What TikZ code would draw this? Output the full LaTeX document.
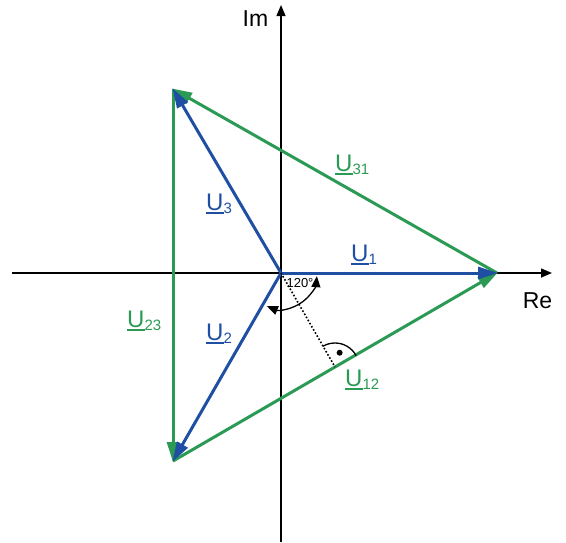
\documentclass[tikz,border=0pt]{standalone}
\usepackage{fontspec}
\setmainfont{Liberation Sans}
\usetikzlibrary{arrows.meta,calc}
\definecolor{vblue}{HTML}{1F4FA3}
\definecolor{vgreen}{HTML}{2A9A55}
\newcommand{\ulU}{\leavevmode\vtop{\hbox{U}\kern2pt\hrule height 1.5pt}}
\newcommand{\vlab}[1]{\ulU\textsubscript{\fontsize{15}{16}\selectfont #1}}
\begin{document}
\begin{tikzpicture}[x=1pt,y=1pt,
  axis/.style={line width=1.5pt,-{Triangle[length=11pt,width=9pt]}},
  bvec/.style={vblue,line width=3pt,-{Triangle[length=20pt,width=12pt]},shorten >=-1pt},
  gvec/.style={vgreen,line width=3pt,-{Triangle[length=20pt,width=12pt]},shorten >=-1pt},
  lab/.style={font=\fontsize{24}{26}\selectfont,inner sep=0pt,anchor=base west},
  axlab/.style={font=\fontsize{23}{25}\selectfont,inner sep=0pt}]
\useasboundingbox (0,-542) rectangle (566,0);
\coordinate (O) at (281,-273);
\coordinate (P1) at (497,-273);
\coordinate (P3) at (173,-89);
\coordinate (P2) at (173,-461);
\coordinate (xL) at (12,-273);
\coordinate (xR) at (552,-273);
\coordinate (yB) at (281,-542);
\coordinate (yT) at (281,-5);
\coordinate (F) at (335,-367);
% axes
\draw[axis] (xL) -- (xR);
\draw[axis] (yB) -- (yT);
\node[axlab] (im) at (255.5,-18.5) {Im};
\node[axlab] (re) at (537.5,-300.5) {Re};
% green triangle
\draw[gvec] (P1) -- (P3);
\draw[gvec] (P3) -- (P2);
\draw[gvec] (P2) -- (P1);
% blue vectors
\draw[bvec] (O) -- (P1);
\draw[bvec] (O) -- (P3);
\draw[bvec] (O) -- (P2);
% dotted perpendicular
\draw[line width=1.6pt,dotted] (O) -- (F);
% right angle marker
\draw[line width=1.3pt] ($(F)+(120:24)$) coordinate (ra1) arc[start angle=120,end angle=28,radius=24] coordinate (ra2);
\fill ($(F)+(72:15)$) coordinate (dot) circle[radius=3pt];
% 120 angle arc
\draw[line width=1.3pt,{Triangle[length=11pt,width=9pt]}-{Triangle[length=11pt,width=9pt]}] ($(O)+(-113:36)$) coordinate (a1) arc[start angle=-113,end angle=-5,radius=36] coordinate (a2);
\node[font=\fontsize{13}{14}\selectfont,inner sep=0pt] (ang) at (300,-283) {120°};
% labels
\node[lab,text=vblue] (l1) at (351,-261) {\vlab{1}};
\node[lab,text=vblue] (l3) at (206,-210) {\vlab{3}};
\node[lab,text=vblue] (l2) at (206,-340) {\vlab{2}};
\node[lab,text=vgreen] (l23) at (127,-327) {\vlab{23}};
\node[lab,text=vgreen] (l31) at (335,-171) {\vlab{31}};
\node[lab,text=vgreen] (l12) at (345,-386) {\vlab{12}};
\end{tikzpicture}
\end{document}
